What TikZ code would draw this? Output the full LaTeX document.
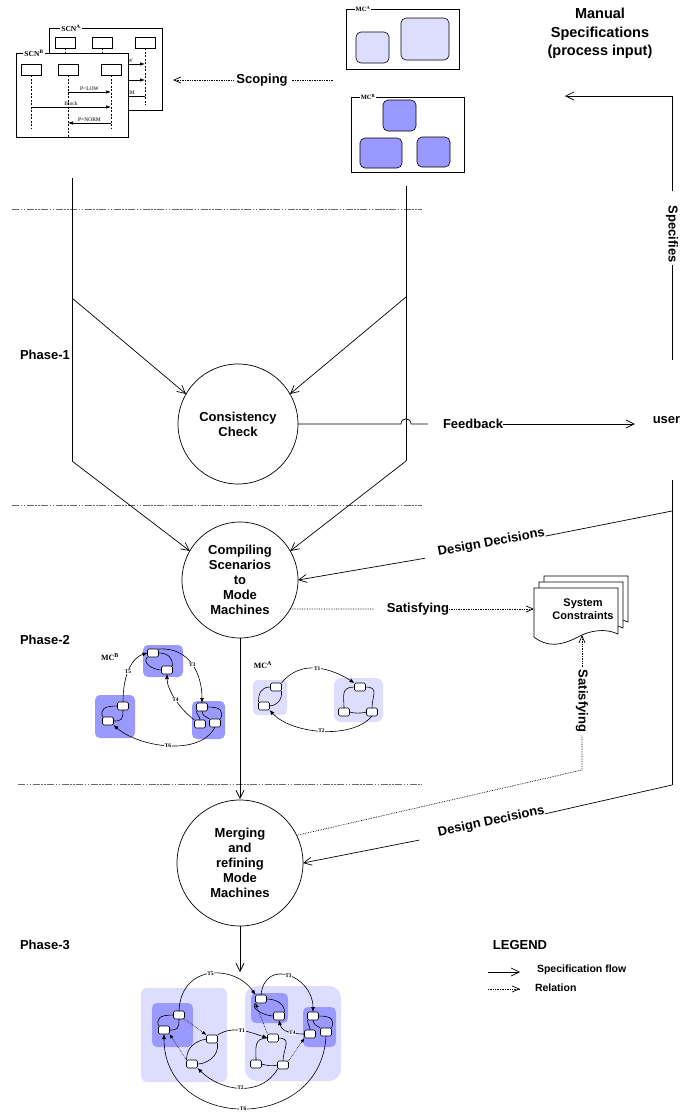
\documentclass[tikz,border=0pt]{standalone}
\usepackage{fontspec}
\setmainfont{Liberation Serif}
\newfontfamily\arialfont{Liberation Sans}
\usetikzlibrary{arrows.meta}
\definecolor{mcdark}{RGB}{153,153,255}
\definecolor{mclight}{RGB}{221,221,255}
\definecolor{phasegray}{RGB}{105,105,105}

\tikzset{
  every node/.style={inner sep=0pt, outer sep=0pt},
  lbl/.style={font=\arialfont\bfseries\fontsize{13}{15}\selectfont, align=center},
  proc/.style={lbl, draw, circle, line width=0.7pt},
  conn/.style={line width=0.7pt},
  flow/.style={conn, -{Straight Barb[length=8pt,width=8pt]}},
  rel/.style={line width=0.7pt, densely dotted},
  relflow/.style={rel, -{Straight Barb[length=7pt,width=6pt]}},
  phaseline/.style={phasegray, line width=0.9pt, dash pattern=on 7pt off 1.5pt on 1.5pt off 1.5pt on 1.5pt off 1.5pt},
  frame/.style={draw, line width=0.7pt, fill=white, anchor=north west},
  framelbl/.style={font=\bfseries\fontsize{7.5}{8}\selectfont, fill=white, inner xsep=1pt},
  lifebox/.style={draw, line width=0.6pt, fill=white, minimum width=20pt, minimum height=11pt},
  lifeline/.style={line width=0.6pt, dash pattern=on 2pt off 1.5pt},
  msg/.style={line width=0.6pt, -{Latex[length=5pt,width=3.5pt]}},
  msglbl/.style={font=\fontsize{5.5}{6}\selectfont},
  region/.style={draw, line width=0.6pt, rounded corners=5pt},
  st/.style={draw, line width=0.6pt, fill=white, rounded corners=1.5pt, minimum width=11pt, minimum height=8pt},
  inner/.style={line width=0.6pt},
  tr/.style={line width=0.6pt, -{Latex[length=5pt,width=4pt]}},
  tl/.style={font=\bfseries\fontsize{5.5}{6}\selectfont, fill=white, inner sep=0.6pt},
  mclbl/.style={font=\bfseries\fontsize{8}{9}\selectfont},
  dotrel/.style={line width=0.6pt, densely dotted, -{Latex[length=4.5pt,width=3.5pt]}},
}

\begin{document}
\begin{tikzpicture}[x=1pt,y=-1pt]
\fill[white] (0,0) rectangle (686,1112);
\useasboundingbox (0,0) rectangle (686,1112);

% ---------- scenario charts SCN^A (back) and SCN^B (front) ----------
\node[frame, minimum width=113pt, minimum height=82pt] (scnA) at (49,28) {};
\node[lifebox] (sa1) at (65,42.5) {};
\node[lifebox] (sa2) at (102,42.5) {};
\node[lifebox] (sa3) at (145,42.5) {};
\foreach \n in {sa1,sa2,sa3} \draw[lifeline] (\n.south) -- ++(0,57);
\draw[msg] (sa2 |- 0,64) -- node[msglbl, above=1.5pt] {P<LOW} (sa3 |- 0,64);
\draw[msg] (sa1 |- 0,80) -- node[msglbl, above=1.5pt] {Block} (sa3 |- 0,80);
\draw[msg] (sa3 |- 0,96) -- node[msglbl, above=1.5pt] {P=NORM} (sa2 |- 0,96);
\node[framelbl] (scnAl) at (71,28) {SCN\textsuperscript{A}};

\node[frame, minimum width=112pt, minimum height=84pt] (scnB) at (16,53) {};
\node[lifebox] (sb1) at (31,69.5) {};
\node[lifebox] (sb2) at (68,69.5) {};
\node[lifebox] (sb3) at (111,69.5) {};
\draw[lifeline] (sb1.south) -- ++(0,53);
\draw[lifeline] (sb2.south) -- ++(0,62);
\draw[lifeline] (sb3.south) -- ++(0,53);
\draw[msg] (sb2 |- 0,92) -- node[msglbl, above=1.5pt] {P<LOW} (sb3 |- 0,92);
\draw[msg] (sb1 |- 0,107) -- node[msglbl, above=1.5pt] {Block} (sb3 |- 0,107);
\draw[msg] (sb3 |- 0,123) -- node[msglbl, above=1.5pt] {P=NORM} (sb2 |- 0,123);
\node[framelbl] (scnBl) at (34,53) {SCN\textsuperscript{B}};

% ---------- mode charts MC^A and MC^B ----------
\node[frame, minimum width=113pt, minimum height=60pt] (mcA) at (346,9) {};
\draw[region, fill=mclight] (356,32) rectangle (389,63);
\draw[region, fill=mclight] (401,18) rectangle (449,60);
\node[framelbl, font=\bfseries\fontsize{6.5}{7}\selectfont] (mcAl) at (363,9) {MC\textsuperscript{A}};

\node[frame, minimum width=113pt, minimum height=75pt] (mcB) at (351,97) {};
\draw[region, fill=mcdark] (383,100) rectangle (416,131);
\draw[region, fill=mcdark] (360,138) rectangle (402,168);
\draw[region, fill=mcdark] (417,137) rectangle (450,167);
\node[framelbl, font=\bfseries\fontsize{6.5}{7}\selectfont] (mcBl) at (368,97) {MC\textsuperscript{B}};

\node[font=\arialfont\bfseries\fontsize{14.5}{18.5}\selectfont, align=center] (manual) at (600,33.5)
  {Manual\\Specifications\\(process input)};

% scoping relation
\node[lbl, inner xsep=3pt] (scope) at (262,80) {Scoping};
\coordinate (scR) at (333,80);
\coordinate (scL) at (173,80);
\draw[rel] (scR) -- (scope.east);
\draw[relflow] (scope.west) -- (scL);

% ---------- phase separators ----------
\draw[phaseline] (12,209) -- (422,209);
\draw[phaseline] (12,505) -- (422,505);
\draw[phaseline] (18,784) -- (422,784);
\node[lbl] (ph1) at (45,355) {Phase-1};
\node[lbl] (ph2) at (45,640) {Phase-2};
\node[lbl] (ph3) at (45,945) {Phase-3};

% ---------- process steps ----------
\node[proc, minimum size=120pt] (cc) at (238,424) {Consistency\\Check};
\node[proc, minimum size=116pt] (comp) at (240,580) {Compiling\\Scenarios\\to\\Mode\\Machines};
\node[proc, minimum size=126pt] (merge) at (240,863) {Merging\\and\\refining\\Mode\\Machines};

\coordinate (Ltop) at (72,178);
\coordinate (Lmid) at (72,298);
\coordinate (Lbot) at (72,461);
\coordinate (Rtop) at (406,186);
\coordinate (Rmid) at (406,297);
\coordinate (Rbot) at (406,461);
\draw[conn] (Ltop) -- (Lbot);
\draw[conn] (Rtop) -- (Rbot);
\draw[flow] (Lmid) -- (cc.150);
\draw[flow] (Rmid) -- (cc.30);
\draw[flow] (Lbot) -- (comp.150);
\draw[flow] (Rbot) -- (comp.30);
\draw[flow] (comp.south) -- (merge.south |- 0,799);
\coordinate (p3top) at (240,972);
\draw[flow] (merge.south) -- (p3top);

% feedback to the user, hopping over the right-hand flow line
\node[lbl] (fb) at (473,424) {Feedback};
\node[lbl] (user) at (666.5,420) {user};
\draw[conn] (cc.east) -- (401,424) .. controls (401,417) and (411,417) .. (411,424) -- ([xshift=-15pt]fb.west);
\draw[flow, shorten >=18pt] (fb.east) -- (fb.east -| user.west);

% user specifies the manual specifications
\node[lbl, rotate=-90] (spec) at (672,234) {Specifies};
\coordinate (specBot) at (672,360);
\coordinate (specCorner) at (672,96);
\coordinate (manIn) at (565,96);
\draw[conn, shorten >=2pt] (specBot) -- (spec.east);
\draw[flow, shorten <=14pt] (spec.west) -- (specCorner) -- (manIn);

% design decisions
\coordinate (uTop) at (672,480);
\coordinate (dd1s) at (672,511);
\coordinate (uBot) at (672,785);
\draw[conn] (uTop) -- (uBot);
\node[lbl, rotate=10.5, anchor=base] (dd1) at (492,546) {Design Decisions};
\draw[conn] (dd1s) -- (dd1.base east);
\draw[flow, shorten <=14pt] (dd1.base west) -- (comp.east);
\node[lbl, rotate=11.9, anchor=base] (dd2) at (492,825) {Design Decisions};
\draw[conn] (uBot) -- (dd2.base east);
\draw[flow, shorten <=20pt] (dd2.base west) -- (merge.east);

% system constraints (stacked documents)
\foreach \dx/\dy in {10/-12, 5/-6, 0/0}
  \draw[line width=0.7pt, fill=white, shift={(\dx,\dy)}]
    (534,588) -- (618,588) -- (618,634)
    .. controls (605,628) and (590,630) .. (576,638)
    .. controls (562,645) and (548,648) .. (534,637) -- cycle;
\node[lbl, font=\arialfont\bfseries\fontsize{11}{12.5}\selectfont] (sys) at (583,609) {System\\Constraints};
\coordinate (sysW) at (534,609);
\coordinate (sysS) at (582,635);

\node[lbl] (sat1) at (418,609) {Satisfying};
\draw[rel] (comp.-30) -- ([xshift=-12pt]sat1.west);
\draw[relflow] (sat1.east) -- (sysW);

\node[lbl, rotate=-90, inner xsep=3pt] (sat2) at (582,701) {Satisfying};
\coordinate (satC) at (582,770);
\draw[rel] (merge.26) -- (satC) -- (sat2.east);
\draw[relflow] (sat2.west) -- (sysS);

% ---------- Phase-2: MC^B ----------
\node[mclbl] (mcB2) at (110,657) {MC\textsuperscript{B}};
\fill[mcdark, rounded corners=5pt] (143,645) rectangle (183,677);
\fill[mcdark, rounded corners=5pt] (192,701) rectangle (225,739);
\fill[mcdark, rounded corners=5pt] (95,695) rectangle (135,738);
\node[st] (b1) at (153,653) {};
\node[st] (b2) at (167,670) {};
\node[st] (b3) at (202,707) {};
\node[st] (b4) at (200,724) {};
\node[st] (b5) at (215,723) {};
\node[st] (b6) at (123,706) {};
\node[st] (b7) at (108,721) {};
\draw[inner] (b1.south west) .. controls +(-6,6) and +(-8,0) .. (b2.west);
\draw[inner] (b1.east) .. controls +(10,0) and +(0,-8) .. (b2.north east);
\draw[inner] (b3.south west) .. controls +(0,4) and +(0,-4) .. (b4.north);
\draw[inner] (b3.south) .. controls +(1,6) and +(-4,-3) .. (b5.north west);
\draw[inner] (b3.east) .. controls +(14,0) and +(3,-8) .. (b5.north east);
\draw[inner] (b6.west) .. controls +(-14,0) and +(-2,-8) .. (b7.north west);
\draw[inner] (b6.south) .. controls +(0,10) and +(8,0) .. (b7.east);
\draw[tr] (b6.north) .. controls +(0,-30) and +(-14,4) .. node[tl, pos=.42] {T5} (b1.west);
\draw[tr] (b1.north east) .. controls +(32,-2) and +(0,-28) .. node[tl] {T3} (b3.north);
\draw[tr] (b4.north west) .. controls +(-14,-10) and +(0,16) .. node[tl] {T4} (b2.south);
\draw[tr] (b5.south) .. controls +(-15,30) and +(25,22) .. node[tl] {T6} (b7.south east);

% ---------- Phase-2: MC^A ----------
\node[mclbl] (mcA2) at (263,665) {MC\textsuperscript{A}};
\fill[mclight, rounded corners=5pt] (253,680) rectangle (287,715);
\fill[mclight, rounded corners=7pt] (334,678) rectangle (383,722);
\node[st] (a1) at (276,687) {};
\node[st] (a2) at (264,706) {};
\node[st] (a3) at (360,687) {};
\node[st] (a4) at (344,712) {};
\node[st] (a5) at (372,712) {};
\draw[inner] (a1.west) .. controls +(-10,0) and +(0,-8) .. (a2.north west);
\draw[inner] (a1.south east) .. controls +(1,10) and +(6,0) .. (a2.east);
\draw[inner] (a3.west) .. controls +(-14,0) and +(0,-12) .. (a4.north);
\draw[inner] (a3.east) .. controls +(14,0) and +(0,-12) .. (a5.north);
\draw[inner] (a4.east) .. controls +(5,1.5) and +(-5,1.5) .. (a5.west);
\draw[tr] (a1.north east) .. controls +(20,-25) and +(-22,-14) .. node[tl] {T1} (a3.north west);
\draw[tr] (a5.south) .. controls +(-20,24) and +(22,24) .. node[tl] {T2} (a2.south east);

% ---------- Phase-3: merged mode machine ----------
\fill[mclight, rounded corners=6pt] (141,988) rectangle (227,1082);
\fill[mclight, rounded corners=12pt] (245,986) rectangle (341,1081);
\fill[mcdark, rounded corners=5pt] (152,1003) rectangle (193,1047);
\fill[mcdark, rounded corners=5pt] (251,993) rectangle (288,1023);
\fill[mcdark, rounded corners=5pt] (303,1007) rectangle (336,1047);
\node[st] (d1) at (179,1015) {};
\node[st] (d2) at (164,1030) {};
\node[st] (l1) at (212,1039) {};
\node[st] (l2) at (192,1064) {};
\node[st] (r1) at (261,999) {};
\node[st] (r2) at (279,1016) {};
\node[st] (r3) at (313,1016) {};
\node[st] (r4) at (310,1034) {};
\node[st] (r5) at (326,1032) {};
\node[st] (m1) at (273,1038) {};
\node[st] (m2) at (256,1064) {};
\node[st] (m3) at (283,1065) {};
\draw[inner] (d1.west) .. controls +(-14,0) and +(-2,-8) .. (d2.north west);
\draw[inner] (d1.south) .. controls +(0,10) and +(8,0) .. (d2.east);
\draw[inner] (l1.west) .. controls +(-12,2) and +(0,-12) .. (l2.north west);
\draw[inner] (l1.south east) .. controls +(2,14) and +(8,0) .. (l2.east);
\draw[inner] (r1.south west) .. controls +(-6,6) and +(-8,0) .. (r2.west);
\draw[inner] (r1.east) .. controls +(10,0) and +(0,-8) .. (r2.north east);
\draw[inner] (r3.south west) .. controls +(0,4) and +(0,-4) .. (r4.north);
\draw[inner] (r3.south) .. controls +(1,6) and +(-4,-3) .. (r5.north west);
\draw[inner] (r3.east) .. controls +(14,0) and +(3,-8) .. (r5.north east);
\draw[inner] (m1.west) .. controls +(-14,0) and +(0,-12) .. (m2.north);
\draw[inner] (m1.east) .. controls +(14,0) and +(0,-12) .. (m3.north);
\draw[inner] (m2.east) .. controls +(5,1.5) and +(-5,1.5) .. (m3.west);
\draw[tr] (d1.north) .. controls +(2,-48) and +(-20,-30) .. node[tl] {T5} (r1.north west);
\draw[tr] (r1.north) .. controls +(4,-38) and +(0,-36) .. node[tl] {T3} (r3.north);
\draw[tr] (l1.north east) .. controls +(16,-10) and +(-18,-6) .. node[tl] {T1} (m1.west);
\draw[tr] (m3.south west) .. controls +(-16,28) and +(24,24) .. node[tl] {T2} (l2.south east);
\draw[tr] (r4.west) .. controls +(-16,0) and +(2,10) .. node[tl, pos=.3] {T4} (r2.south);
\draw[tr] (r5.south) .. controls +(-5,98) and +(0,98) .. node[tl] {T6} (d2.south);
\draw[dotrel] (d1.south east) -- (l1.north west);
\draw[dotrel] (l2.north west) -- (d2.south east);
\draw[dotrel, {Latex[length=4.5pt,width=3.5pt]}-] (r1.south west) -- (m1.north west);
\draw[dotrel] (m3.north east) -- (r4.south west);

% ---------- legend ----------
\node[lbl] (legend) at (520,945) {LEGEND};
\node[lbl, font=\arialfont\bfseries\fontsize{10.5}{12}\selectfont, anchor=west] (legflow) at (537,970) {Specification flow};
\node[lbl, font=\arialfont\bfseries\fontsize{10.5}{12}\selectfont, anchor=west] (legrel) at (535,988) {Relation};
\coordinate (lf0) at (488,972);
\coordinate (lf1) at (520,972);
\coordinate (lr0) at (488,989);
\coordinate (lr1) at (520,989);
\draw[flow] (lf0) -- (lf1);
\draw[relflow] (lr0) -- (lr1);
\end{tikzpicture}
\end{document}
